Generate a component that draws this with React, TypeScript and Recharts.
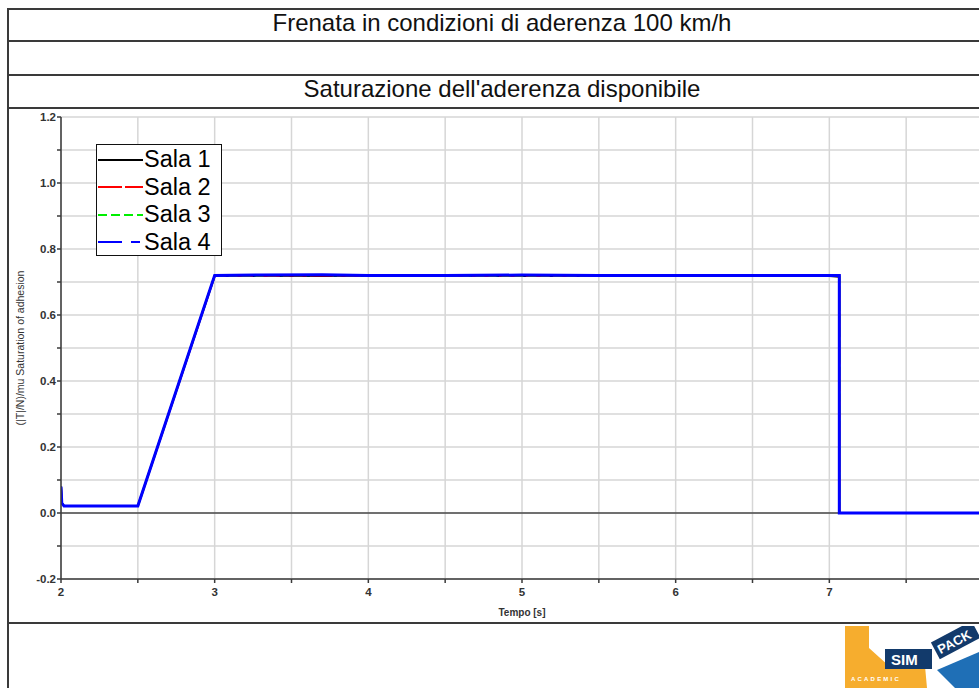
import React from 'react';
import { LineChart, Line, XAxis, YAxis, CartesianGrid, ReferenceLine } from 'recharts';

// time [s]
const tempo = [2.0, 2.005, 2.02, 2.5, 3.0, 3.3, 3.7, 4.0, 4.5, 5.0, 5.5, 6.0, 6.5, 7.0, 7.065, 7.065, 7.5, 8.0];
// (|T|/N)/mu for each wheelset
const sala1 = [0.08, 0.03, 0.021, 0.021, 0.718, 0.718, 0.718, 0.718, 0.718, 0.718, 0.718, 0.718, 0.718, 0.718, 0.716, 0.0, 0.0, 0.0];
const sala2 = [0.08, 0.03, 0.021, 0.021, 0.719, 0.719, 0.72, 0.719, 0.719, 0.719, 0.719, 0.719, 0.719, 0.719, 0.719, 0.0, 0.0, 0.0];
const sala3 = [0.08, 0.03, 0.021, 0.021, 0.72, 0.72, 0.721, 0.72, 0.72, 0.72, 0.72, 0.72, 0.72, 0.72, 0.72, 0.0, 0.0, 0.0];
const sala4 = [0.08, 0.03, 0.021, 0.021, 0.72, 0.721, 0.722, 0.72, 0.72, 0.721, 0.72, 0.72, 0.72, 0.72, 0.72, 0.0, 0.0, 0.0];

const xTicks = [2, 2.5, 3, 3.5, 4, 4.5, 5, 5.5, 6, 6.5, 7, 7.5, 8];
const yTicks = [-0.2, -0.1, 0, 0.1, 0.2, 0.3, 0.4, 0.5, 0.6, 0.7, 0.8, 0.9, 1.0, 1.1, 1.2];
const yLabels = ['-0.2', '', '0.0', '', '0.2', '', '0.4', '', '0.6', '', '0.8', '', '1.0', '', '1.2'];

const seriesNames = ['Sala 1', 'Sala 2', 'Sala 3', 'Sala 4'];
const seriesColors = ['#000000', '#ff0000', '#00ee00', '#0000ff'];
const legendDash = ['', '24 3', '9 4', '24 9 9 9'];

const data = tempo.map((t, i) => ({
    t,
    s1: sala1[i],
    s2: sala2[i],
    s3: sala3[i],
    s4: sala4[i],
}));

const FONT = '"Liberation Sans", Arial, sans-serif';
const LINE = '#3a3a3a';

const XTick = (props: any) => {
    const { x, y, payload } = props;
    const v = payload.value;
    if (!Number.isInteger(v)) return null;
    return (
        <text x={x} y={y + 11} textAnchor="middle" fontFamily={FONT} fontSize={11.5} fontWeight="bold"
            fill={v === 8 ? '#e8a23c' : '#333'}>
            {v}
        </text>
    );
};

const YTick = (props: any) => {
    const { x, y, payload } = props;
    const idx = yTicks.findIndex((v) => Math.abs(v - payload.value) < 1e-6);
    const label = idx >= 0 ? yLabels[idx] : '';
    if (!label) return null;
    return (
        <text x={x + 1} y={y + 4} textAnchor="end" fontFamily={FONT} fontSize={11.5} fontWeight="bold" fill="#333">
            {label}
        </text>
    );
};

const LegendBox = () => (
    <div style={{
        position: 'absolute', left: 96, top: 144,
        width: 124, height: 109, border: '1.5px solid #111', background: '#fff',
        fontFamily: FONT, fontSize: 23.5, color: '#000', padding: '1px 0 0 0',
    }}>
        {seriesNames.map((name, i) => (
            <div key={name} style={{ display: 'flex', alignItems: 'center', height: 27.5, lineHeight: '27px' }}>
                <svg width={46} height={10} style={{ marginLeft: 1 }}>
                    <line x1={0} y1={5} x2={45} y2={5} stroke={seriesColors[i]} strokeWidth={2}
                        strokeDasharray={legendDash[i] || undefined} />
                </svg>
                <span style={{ marginLeft: 0 }}>{name}</span>
            </div>
        ))}
    </div>
);

const Logo = () => (
    <svg width={134} height={62} style={{ position: 'absolute', left: 845, top: 626 }}>
        <polygon points="0,0 24,0 24,22 44,40 80,40 82,62 0,62" fill="#f6ad2e" />
        <text x={6} y={55} fontFamily={FONT} fontSize={6} fill="#fff" letterSpacing={2.2} fontWeight="bold">ACADEMIC</text>
        <rect x={40} y={23} width={47} height={20} fill="#123a6b" />
        <text x={46} y={39} fontFamily={FONT} fontSize={15} fontWeight="bold" fill="#fff">SIM</text>
        <g transform="translate(92,28) rotate(-28)">
            <rect x={0} y={-13} width={46} height={19} fill="#123a6b" />
            <text x={3} y={2} fontFamily={FONT} fontSize={13} fontWeight="bold" fill="#fff">PACK</text>
        </g>
        <polygon points="92,44 134,26 134,62 110,62" fill="#1f6fb6" />
    </svg>
);

const hLine = (top: number) => (
    <div style={{ position: 'absolute', left: 7, right: 0, top, height: 0, borderTop: `2px solid ${LINE}` }} />
);

export default function App() {
    return (
        <div style={{ position: 'fixed', left: 0, top: 0, width: 979, height: 688, overflow: 'hidden', background: '#fff' }}>
            <div style={{ position: 'absolute', left: 7, top: 8, bottom: 0, width: 0, borderLeft: `2px solid ${LINE}` }} />
            {hLine(8)}
            {hLine(40)}
            {hLine(74)}
            {hLine(107)}
            {hLine(622)}
            <div style={{ position: 'absolute', left: 7, width: 990, top: 8, height: 30, textAlign: 'center', lineHeight: '30px', fontFamily: FONT, fontSize: 24, color: '#111' }}>
                Frenata in condizioni di aderenza 100 km/h
            </div>
            <div style={{ position: 'absolute', left: 7, width: 990, top: 73, height: 31, textAlign: 'center', lineHeight: '31px', fontFamily: FONT, fontSize: 24, color: '#111' }}>
                Saturazione dell'aderenza disponibile
            </div>

            <div style={{ position: 'absolute', left: 0, top: 108 }}>
                <LineChart width={1010} height={514} data={data} margin={{ top: 9, right: 27, bottom: 0, left: 0 }}>
                    <CartesianGrid stroke="#d6d6d6" strokeWidth={1.5} />
                    <XAxis dataKey="t" type="number" domain={[2, 8]} ticks={xTicks} allowDataOverflow
                        stroke={LINE} strokeWidth={1.5} tickSize={4} tick={<XTick />} height={43}
                        label={{ value: 'Tempo [s]', position: 'insideBottom', offset: 6, fontFamily: FONT, fontSize: 10, fontWeight: 'bold', fill: '#333' }} />
                    <XAxis xAxisId="top" orientation="top" type="number" domain={[2, 8]} tick={false}
                        tickLine={false} stroke={LINE} strokeWidth={1.5} height={0} />
                    <YAxis type="number" domain={[-0.2, 1.2]} ticks={yTicks} allowDataOverflow width={61}
                        stroke={LINE} strokeWidth={1.5} tickSize={4} tick={<YTick />}
                        label={{ value: '(|T|/N)/mu Saturation of adhesion', angle: -90, position: 'insideLeft', offset: 20, fontFamily: FONT, fontSize: 10.5, fill: '#333', style: { textAnchor: 'middle' } }} />
                    <ReferenceLine y={0} stroke="#000" strokeWidth={1.2} />
                    <Line type="linear" dataKey="s1" name={seriesNames[0]} stroke={seriesColors[0]} strokeWidth={2} dot={false} isAnimationActive={false} />
                    <Line type="linear" dataKey="s2" name={seriesNames[1]} stroke={seriesColors[1]} strokeWidth={2} strokeDasharray="24 3" dot={false} isAnimationActive={false} />
                    <Line type="linear" dataKey="s3" name={seriesNames[2]} stroke={seriesColors[2]} strokeWidth={2} strokeDasharray="9 4" dot={false} isAnimationActive={false} />
                    <Line type="linear" dataKey="s4" name={seriesNames[3]} stroke={seriesColors[3]} strokeWidth={3} dot={false} isAnimationActive={false} />
                </LineChart>
            </div>
            <LegendBox />
            <Logo />
        </div>
    );
}
